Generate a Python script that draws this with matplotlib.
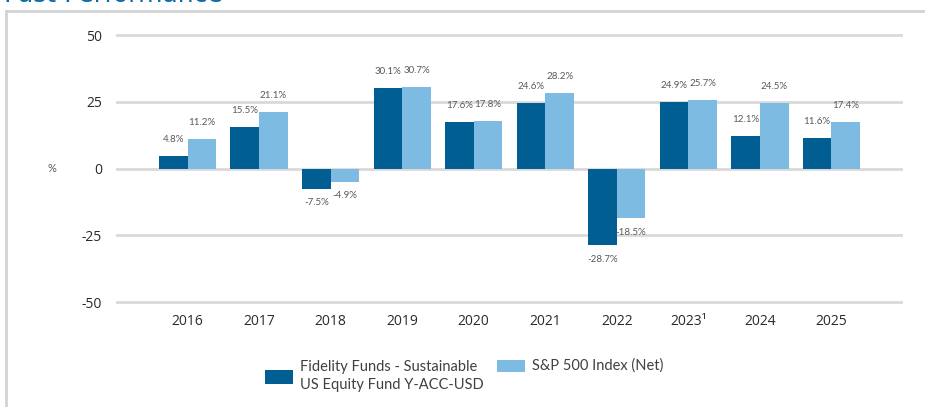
import matplotlib
matplotlib.use("Agg")
import matplotlib.pyplot as plt
from matplotlib.patches import Rectangle
from matplotlib.lines import Line2D
import numpy as np

years = ["2016", "2017", "2018", "2019", "2020", "2021", "2022", "2023\u00b9", "2024", "2025"]
fund = [4.8, 15.5, -7.5, 30.1, 17.6, 24.6, -28.7, 24.9, 12.1, 11.6]
index = [11.2, 21.1, -4.9, 30.7, 17.8, 28.2, -18.5, 25.7, 24.5, 17.4]
series_names = ["Fidelity Funds - Sustainable\nUS Equity Fund Y-ACC-USD", "S&P 500 Index (Net)"]
yticks = [-50, -25, 0, 25, 50]

dark = "#005E92"
light = "#7EBBE2"
grid_c = "#D9D9D9"
txt_c = "#2A2A2A"
lab_c = "#595959"

fig = plt.figure(figsize=(9.25, 4.07), dpi=100)
ax = fig.add_axes([116/925, 1 - 304.7/407, 787/925, 272.3/407])

x = np.arange(len(years))
w = 0.4
b1 = ax.bar(x - w/2, fund, width=w, color=dark, linewidth=0, zorder=3)
b2 = ax.bar(x + w/2, index, width=w, color=light, linewidth=0, zorder=3)

for bars, vals in ((b1, fund), (b2, index)):
    for rect, v in zip(bars, vals):
        cx = rect.get_x() + rect.get_width()/2
        if v >= 0:
            ax.annotate(f"{v:.1f}%", (cx, v), xytext=(0, 8.5), textcoords="offset points",
                        ha="center", va="bottom", fontsize=7, color=lab_c, family="Lato")
        else:
            ax.annotate(f"{v:.1f}%", (cx, v), xytext=(0, -7), textcoords="offset points",
                        ha="center", va="top", fontsize=7, color=lab_c, family="Lato")

ax.set_xlim(-1, 10)
ax.set_ylim(-51, 51)
ax.set_yticks(yticks)
ax.set_yticklabels([str(t) for t in yticks], fontsize=10, color=txt_c, family="Open Sans")
ax.set_xticks(x)
ax.set_xticklabels(years, fontsize=10, color=txt_c, family="Open Sans")
ax.tick_params(axis="both", length=0)
ax.tick_params(axis="y", pad=10)
ax.tick_params(axis="x", pad=7)
for s in ax.spines.values():
    s.set_visible(False)
ax.yaxis.grid(True, color=grid_c, linewidth=2, zorder=0)
ax.set_axisbelow(True)

fig.text(48/925, 1 - 169/407, "%", fontsize=8, color=lab_c, ha="left", va="center", family="Lato")

# legend (drawn manually to match the reference layout)
def fx(px):
    return px / 925
def fy(py):
    return 1 - py / 407

fig.add_artist(Rectangle((fx(265), fy(384)), 28/925, 14/407, transform=fig.transFigure,
                         facecolor=dark, edgecolor="none"))
fig.text(fx(300), fy(376), series_names[0], fontsize=10.5, color="#404040", ha="left",
         va="center", family="Lato", linespacing=1.35)
fig.add_artist(Rectangle((fx(497), fy(372)), 28/925, 12/407, transform=fig.transFigure,
                         facecolor=light, edgecolor="none"))
fig.text(fx(532), fy(366), series_names[1], fontsize=10.5, color="#404040", ha="left",
         va="center", family="Lato")

# outer frame and title
fig.add_artist(Line2D([6/925, 6/925], [0, 1 - 11/407], color="#D3D3D3", linewidth=2))
fig.add_artist(Line2D([6/925, 1], [1 - 11/407, 1 - 11/407], color="#D3D3D3", linewidth=2))
fig.text(4/925, 1 - 2.5/407, "Past Performance", fontsize=18, color="#0B6BAA", ha="left", va="baseline")

fig.savefig("out.png", dpi=100)
